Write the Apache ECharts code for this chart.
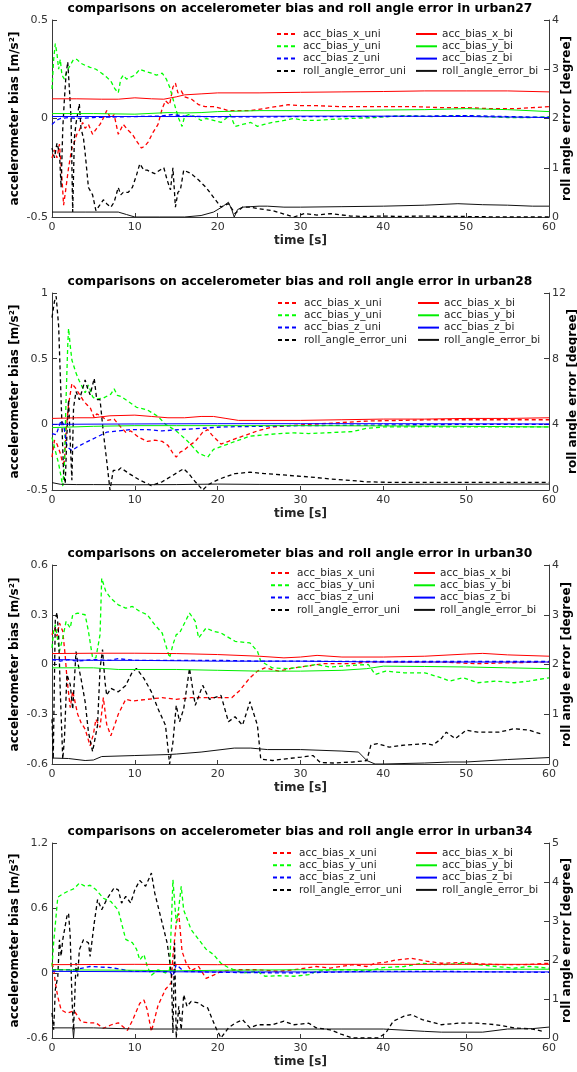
<!DOCTYPE html>
<html>
<head>
<meta charset="utf-8">
<script src="https://cdn.jsdelivr.net/npm/echarts@6/dist/echarts.min.js"></script>
<style>html,body{margin:0;padding:0;background:#fff}#c{width:577px;height:1072px}</style>
</head>
<body>
<div id="c"></div>
<script>
// ---------- data: [time s, value] ----------
const seriesNames = ['acc_bias_x_uni','acc_bias_y_uni','acc_bias_z_uni','roll_angle_error_uni','acc_bias_x_bi','acc_bias_y_bi','acc_bias_z_bi','roll_angle_error_bi'];
const xTicks = [0,10,20,30,40,50,60];
const panelTitles = ['urban27','urban28','urban30','urban34'];

// urban27
const u27_xUni = [[0,-0.2],[0.3,-0.16],[0.6,-0.2],[0.9,-0.13],[1.2,-0.3],[1.4,-0.44],[1.6,-0.38],[2,-0.25],[2.4,-0.15],[2.7,-0.12],[3,-0.08],[3.3,-0.06],[3.7,-0.02],[4,-0.05],[4.4,-0.03],[4.9,-0.08],[5.4,-0.05],[5.8,-0.03],[6.3,0.01],[6.6,0.04],[7.1,0.0],[7.5,0.02],[8,-0.08],[8.6,-0.03],[9.2,-0.06],[9.7,-0.08],[10.3,-0.12],[10.8,-0.15],[11.2,-0.14],[11.6,-0.12],[12.2,-0.07],[12.8,-0.03],[13.3,0.05],[13.7,0.09],[14.2,0.07],[14.6,0.16],[14.9,0.18],[15.2,0.13],[15.6,0.14],[16,0.11],[16.8,0.1],[17.7,0.07],[18.5,0.06],[19.5,0.06],[20.5,0.05],[21.3,0.04],[22.5,0.04],[24,0.04],[25.5,0.05],[27,0.06],[28.5,0.07],[30,0.065],[32,0.065],[35,0.06],[38,0.06],[41,0.06],[44,0.06],[47,0.055],[50,0.055],[53,0.05],[56,0.05],[58,0.055],[60,0.06]];
const u27_yUni = [[0,0.15],[0.2,0.3],[0.4,0.38],[0.6,0.33],[0.8,0.25],[1,0.3],[1.2,0.22],[1.5,0.2],[1.8,0.24],[2.2,0.27],[2.6,0.3],[3,0.3],[3.5,0.28],[4,0.27],[4.6,0.26],[5.3,0.25],[6,0.23],[6.6,0.21],[7.1,0.19],[7.6,0.15],[8,0.13],[8.3,0.2],[8.6,0.22],[9,0.2],[9.5,0.21],[10,0.22],[10.6,0.25],[11.2,0.24],[12,0.23],[12.6,0.22],[13.3,0.23],[13.8,0.2],[14.2,0.16],[14.6,0.1],[15,0.04],[15.3,0.0],[15.7,-0.04],[16,0.01],[16.5,0.02],[17.3,0.01],[18,-0.01],[18.6,0.0],[19.5,-0.01],[20.4,-0.02],[21,0.0],[21.5,0.02],[22.1,-0.04],[23,-0.03],[24,-0.02],[24.8,-0.04],[25.6,-0.03],[26.6,-0.02],[28,-0.01],[29.2,0.0],[30.5,-0.01],[32,-0.01],[33.6,-0.005],[36,0.0],[39,0.005],[42.5,0.015],[46,0.01],[49,0.015],[52,0.01],[55,0.005],[58,0.005],[60,0.01]];
const u27_zUni = [[0,-0.03],[0.5,-0.01],[1,0.0],[2,0.005],[3,0.0],[5,0.005],[8,0.008],[10,0.01],[13,0.012],[14.5,0.02],[16,0.012],[20,0.008],[25,0.008],[30,0.01],[40,0.01],[45,0.012],[50,0.015],[55,0.01],[60,0.005]];
const u27_rollUni = [[0,1.4],[0.3,1.2],[0.6,1.5],[0.9,1.3],[1.1,0.6],[1.3,1.8],[1.5,2.4],[1.7,2.9],[1.9,3.15],[2.1,2.6],[2.3,2.0],[2.5,0.1],[2.7,1.6],[2.9,1.9],[3.3,2.3],[3.5,1.8],[3.8,1.6],[4.0,1.3],[4.4,0.6],[4.9,0.45],[5.3,0.13],[5.8,0.25],[6.2,0.35],[6.6,0.27],[7.1,0.2],[7.5,0.3],[8,0.6],[8.3,0.45],[8.6,0.5],[9.2,0.5],[9.7,0.6],[10.2,0.85],[10.6,1.08],[11.1,0.95],[11.5,0.95],[12.4,0.88],[13,0.95],[13.5,1.0],[13.9,0.75],[14.3,0.55],[14.6,1.0],[14.9,0.2],[15.2,0.5],[15.5,0.55],[15.9,0.95],[16.8,0.88],[17.7,0.75],[18.6,0.6],[19.5,0.4],[20.4,0.2],[21.3,0.27],[22.1,0.07],[23,0.2],[24,0.2],[24.8,0.17],[26.6,0.13],[28,0.06],[29.2,0.0],[30.5,0.07],[32,0.04],[33.6,0.07],[36,0.02],[38,0.01],[40,0.02],[42,0.01],[45,0.02],[47,0.01],[50,0.01],[55,0.0],[60,0.0]];
const u27_xBi = [[0,0.1],[3,0.1],[6,0.098],[8,0.098],[10,0.105],[12,0.1],[13.5,0.098],[15,0.11],[16,0.12],[18,0.125],[20,0.13],[25,0.13],[30,0.133],[35,0.135],[40,0.137],[45,0.14],[50,0.14],[55,0.14],[60,0.135]];
const u27_yBi = [[0,0.025],[5,0.025],[10,0.022],[14,0.03],[16,0.028],[18,0.03],[20,0.035],[25,0.04],[30,0.04],[35,0.04],[40,0.043],[45,0.045],[50,0.05],[55,0.045],[60,0.035]];
const u27_zBi = [[0,0.01],[10,0.01],[20,0.01],[30,0.012],[40,0.012],[50,0.01],[60,0.005]];
const u27_rollBi = [[0,0.1],[4,0.1],[8,0.1],[9,0.05],[10,0.0],[13,0.0],[16,0.0],[18,0.03],[19.5,0.1],[20.5,0.2],[21.3,0.3],[21.7,0.15],[22,0.0],[22.4,0.15],[23,0.2],[25,0.22],[26,0.22],[28,0.2],[30,0.2],[35,0.21],[40,0.22],[45,0.24],[49,0.27],[52,0.25],[55,0.24],[58,0.22],[60,0.22]];

// urban28
const u28_xUni = [[0,-0.25],[0.3,-0.12],[0.6,-0.15],[1,-0.22],[1.3,-0.3],[1.5,-0.28],[1.7,-0.05],[2,0.15],[2.4,0.31],[2.8,0.28],[3.3,0.23],[3.8,0.18],[4.2,0.15],[4.6,0.13],[5.1,0.05],[5.4,0.08],[6,0.06],[6.6,0.03],[7.5,0.04],[8,0.0],[8.9,-0.06],[9.5,-0.05],[10.5,-0.1],[11.5,-0.13],[12.4,-0.12],[13.3,-0.13],[14,-0.16],[14.6,-0.22],[15,-0.25],[15.5,-0.21],[15.9,-0.2],[16.6,-0.16],[17.3,-0.13],[18.2,-0.06],[18.8,-0.04],[19.3,-0.08],[20.4,-0.15],[21.3,-0.13],[22.1,-0.11],[23.5,-0.08],[24.8,-0.05],[26.6,-0.02],[28.5,-0.01],[31,0.0],[34,0.01],[38,0.025],[42,0.03],[46,0.035],[50,0.035],[55,0.035],[60,0.035]];
const u28_yUni = [[0,-0.1],[0.4,-0.2],[0.8,-0.3],[1.1,-0.4],[1.3,-0.47],[1.5,-0.3],[1.7,0.2],[1.9,0.6],[2.0,0.73],[2.2,0.6],[2.4,0.49],[2.9,0.39],[3.3,0.33],[4,0.24],[4.4,0.3],[4.9,0.21],[5.3,0.19],[6.2,0.2],[7.1,0.23],[7.5,0.27],[7.9,0.22],[8.4,0.21],[9.3,0.17],[10.2,0.13],[11.5,0.11],[12.8,0.06],[13.7,0.0],[15,-0.05],[16.4,-0.13],[17.7,-0.22],[18.8,-0.25],[19.5,-0.19],[20.4,-0.17],[22.1,-0.13],[23.9,-0.09],[25.7,-0.08],[27.5,-0.07],[29.2,-0.065],[31,-0.07],[33,-0.065],[36.3,-0.055],[38,-0.03],[40,-0.02],[45,-0.018],[50,-0.02],[55,-0.02],[60,-0.02]];
const u28_zUni = [[0,-0.07],[0.5,-0.08],[1.1,0.03],[1.4,0.0],[1.8,-0.17],[2.4,-0.2],[3.1,-0.17],[4,-0.14],[5.3,-0.1],[6.6,-0.06],[8,-0.05],[9.5,-0.04],[11.5,-0.04],[13.3,-0.05],[15.5,-0.04],[18.2,-0.03],[20.4,-0.02],[25,-0.015],[30,-0.01],[40,-0.005],[50,0.0],[60,0.0]];
const u28_rollUni = [[0,10.5],[0.3,11.5],[0.5,11.8],[0.8,10],[1.0,7],[1.2,4],[1.4,1.0],[1.6,0.4],[1.8,3.4],[2.0,5.5],[2.2,3.0],[2.4,0.6],[2.6,5.0],[2.9,6.0],[3.3,5.5],[3.6,6.0],[4.0,6.7],[4.3,6.2],[4.6,5.8],[5.1,6.8],[5.4,5.5],[5.8,5.5],[6.2,3.5],[6.6,1.8],[7.0,0.0],[7.4,1.2],[8.0,1.2],[8.3,1.35],[9.3,1.0],[10.6,0.6],[12.0,0.27],[13.3,0.5],[14.6,0.9],[15.9,1.3],[16.5,1.0],[17.3,0.5],[18.2,0.0],[18.8,0.3],[19.5,0.5],[20.4,0.7],[22.1,1.0],[23.9,1.08],[25.7,1.0],[28.3,0.9],[31,0.8],[33.6,0.67],[36.3,0.57],[38,0.5],[40.3,0.47],[45,0.47],[50,0.47],[55,0.47],[60,0.47]];
const u28_xBi = [[0,0.045],[3,0.05],[5,0.05],[7,0.065],[10,0.07],[12,0.06],[14,0.05],[16,0.05],[18,0.06],[19.5,0.06],[21,0.045],[22.5,0.03],[25,0.03],[30,0.03],[35,0.035],[40,0.04],[45,0.04],[50,0.045],[55,0.045],[60,0.05]];
const u28_yBi = [[0,-0.025],[5,-0.015],[10,-0.01],[15,-0.01],[20,-0.01],[30,-0.01],[40,-0.012],[50,-0.015],[60,-0.02]];
const u28_zBi = [[0,0.0],[10,0.003],[20,0.005],[30,0.005],[40,0.005],[50,0.004],[60,0.003]];
const u28_rollBi = [[0,0.45],[1,0.35],[3,0.33],[5,0.33],[10,0.32],[15,0.33],[20,0.36],[25,0.34],[30,0.33],[35,0.33],[40,0.34],[45,0.35],[50,0.35],[55,0.36],[60,0.36]];

// urban30
const u30_xUni = [[0,0.18],[0.3,0.22],[0.6,0.17],[0.9,0.25],[1.3,0.2],[1.6,0.05],[1.8,-0.08],[2.2,-0.26],[2.5,-0.16],[3.1,-0.3],[3.5,-0.35],[4,-0.39],[4.6,-0.49],[5,-0.42],[5.3,-0.33],[5.8,-0.38],[6.2,-0.2],[6.6,-0.36],[7.1,-0.43],[7.6,-0.36],[8,-0.3],[8.5,-0.25],[8.9,-0.21],[9.7,-0.22],[11.5,-0.21],[13.3,-0.2],[15,-0.21],[16.8,-0.2],[18.6,-0.2],[20.4,-0.2],[21.7,-0.2],[22.6,-0.16],[23.9,-0.08],[24.8,-0.04],[25.7,-0.02],[27.4,-0.04],[29.2,-0.02],[30.8,-0.01],[32.8,0.005],[36.3,0.005],[38,0.015],[42,0.015],[47,0.015],[51,0.005],[55,0.01],[60,0.015]];
const u30_yUni = [[0,0.1],[0.2,0.2],[0.4,0.24],[0.9,0.08],[1.3,0.16],[1.7,0.26],[2.2,0.22],[2.5,0.3],[3.1,0.31],[4,0.3],[4.4,0.2],[4.9,0.04],[5.3,0.04],[5.8,0.18],[6.0,0.52],[6.5,0.44],[7.1,0.4],[8,0.36],[8.9,0.34],[9.7,0.35],[10.6,0.32],[11.5,0.3],[12.4,0.24],[13.3,0.19],[14.2,0.04],[14.6,0.12],[15,0.18],[15.4,0.19],[15.9,0.24],[16.6,0.31],[17.3,0.26],[17.7,0.16],[18.6,0.22],[19.5,0.2],[20.4,0.19],[22.1,0.14],[23.9,0.13],[24.8,0.08],[25.2,0.02],[26.6,-0.02],[28.4,-0.025],[30.1,-0.015],[31.9,0.0],[33.6,-0.015],[36.3,-0.005],[38.2,0.0],[39,-0.06],[40.3,-0.04],[42.5,-0.05],[45,-0.05],[47,-0.08],[48,-0.1],[49.6,-0.08],[51.4,-0.11],[53.6,-0.1],[55.8,-0.11],[57.6,-0.1],[60,-0.08]];
const u30_zUni = [[0,0.03],[1,0.02],[2,0.03],[3,0.02],[5,0.03],[7,0.025],[8,0.035],[10,0.025],[15,0.025],[20,0.025],[25,0.02],[30,0.02],[40,0.018],[50,0.018],[60,0.018]];
const u30_rollUni = [[0,0.9],[0.15,0.1],[0.4,2.9],[0.6,3.05],[0.8,2.6],[1.0,1.45],[1.3,0.1],[1.5,0.5],[1.8,1.8],[2.2,1.6],[2.5,1.1],[2.9,2.26],[3.1,2.05],[3.5,1.72],[4.0,1.25],[4.4,0.64],[4.9,0.25],[5.5,0.78],[5.8,1.92],[6.1,2.3],[6.4,1.65],[6.6,1.38],[7.1,1.52],[8.0,1.45],[8.9,1.58],[9.7,1.85],[10.2,1.92],[11.1,1.72],[12,1.45],[12.8,1.11],[13.7,0.78],[14.2,0.0],[14.6,0.44],[15.0,1.18],[15.4,0.85],[15.9,1.11],[16.6,1.92],[17.3,1.18],[18.2,1.58],[19,1.3],[20.4,1.38],[21.3,0.85],[22.1,0.95],[23,0.78],[23.9,1.25],[24.8,0.78],[25.2,0.1],[26.6,0.07],[28,0.1],[30.1,0.14],[31.5,0.17],[32.4,0.03],[34,0.02],[36.3,0.04],[38,0.07],[38.5,0.38],[39.3,0.41],[40.7,0.34],[42.5,0.38],[45.2,0.41],[46,0.38],[47,0.51],[47.6,0.64],[48.7,0.51],[50,0.68],[51.4,0.64],[54,0.64],[55.8,0.71],[57.6,0.68],[59.3,0.59]];
const u30_xBi = [[0,0.066],[5,0.068],[10,0.068],[15,0.066],[20,0.06],[25,0.05],[28,0.04],[30,0.045],[32,0.055],[35,0.045],[40,0.045],[45,0.05],[50,0.063],[52,0.067],[55,0.058],[60,0.05]];
const u30_yBi = [[0,-0.02],[5,-0.02],[8,-0.03],[15,-0.03],[20,-0.035],[25,-0.04],[30,-0.04],[35,-0.035],[38,-0.025],[40,-0.01],[45,-0.012],[50,-0.015],[55,-0.02],[60,-0.025]];
const u30_zBi = [[0,0.03],[5,0.025],[10,0.025],[20,0.02],[30,0.02],[40,0.015],[50,0.015],[60,0.015]];
const u30_rollBi = [[0,0.12],[2,0.11],[4,0.07],[5,0.08],[6,0.15],[10,0.17],[14,0.19],[15,0.2],[18,0.24],[22,0.32],[24,0.32],[26,0.29],[30,0.29],[35,0.26],[37,0.24],[38,0.07],[39,0.0],[40,0.0],[45,0.02],[48,0.04],[50,0.04],[55,0.09],[60,0.13]];

// urban34
const u34_xUni = [[0,0.09],[0.2,0.04],[0.4,-0.09],[0.7,-0.22],[1.1,-0.34],[1.8,-0.37],[2.7,-0.35],[3.5,-0.45],[4.4,-0.46],[5.3,-0.46],[6.2,-0.51],[7.1,-0.48],[8,-0.46],[9.1,-0.53],[9.7,-0.44],[10.6,-0.28],[11.1,-0.25],[11.5,-0.34],[12,-0.54],[12.8,-0.3],[13.7,-0.15],[14.4,-0.09],[14.6,0.16],[15,0.46],[15.3,0.55],[15.7,0.2],[16.2,0.09],[16.8,0.02],[17.7,0.06],[18.6,-0.05],[19.5,-0.02],[20.4,0.015],[22.1,0.03],[24.8,0.03],[27.4,0.015],[29.2,0.03],[31.9,0.06],[33.6,0.045],[36.3,0.077],[38,0.06],[39,0.09],[40.3,0.1],[41.5,0.12],[43.4,0.135],[45.2,0.11],[47,0.09],[49.6,0.097],[51.4,0.085],[54,0.077],[57,0.077],[60,0.09]];
const u34_yUni = [[0,0.06],[0.2,0.28],[0.7,0.7],[1.3,0.73],[1.8,0.75],[2.7,0.78],[3.3,0.83],[4,0.8],[4.6,0.81],[5.3,0.77],[6.2,0.69],[7.1,0.66],[8,0.58],[8.4,0.46],[8.9,0.31],[9.7,0.28],[10.2,0.22],[10.6,0.12],[11.1,0.17],[11.5,0.06],[12,-0.02],[12.8,0.03],[13.7,0.0],[14.2,0.03],[14.6,0.86],[15,0.46],[15.3,0.6],[15.6,0.8],[15.9,0.58],[16.8,0.4],[17.7,0.31],[18.6,0.22],[19.5,0.17],[20.4,0.09],[21.3,0.05],[23,0.0],[24.8,0.015],[25.7,-0.03],[27.4,-0.025],[29.2,-0.03],[31,-0.015],[31.9,0.015],[33.6,0.03],[36.3,0.03],[38,0.015],[39.9,0.05],[42.5,0.06],[44.7,0.09],[47,0.077],[49.6,0.09],[51.4,0.077],[53.6,0.06],[55.8,0.045],[57.6,0.06],[60,0.045]];
const u34_zUni = [[0,0.03],[2.7,0.03],[4.6,0.06],[7.1,0.05],[9.7,0.015],[14.2,0.015],[14.6,-0.03],[15,0.08],[15.9,0.015],[20.4,0.006],[29.2,0.0],[38,0.015],[47,0.015],[60,0.006]];
const u34_rollUni = [[0,0.64],[0.2,0.21],[0.4,1.24],[0.7,1.58],[0.9,2.52],[1.1,2.1],[1.3,2.52],[1.8,3.12],[2.0,3.2],[2.2,2.6],[2.4,1.07],[2.6,0.2],[2.9,1.92],[3.1,1.58],[3.3,2.26],[3.8,2.52],[4.4,2.44],[4.6,2.09],[5.1,2.95],[5.5,3.55],[6.0,3.29],[6.6,3.55],[7.1,3.72],[7.5,3.85],[8.0,3.8],[8.4,3.46],[8.9,3.63],[9.5,3.46],[10.0,3.8],[10.6,4.04],[11.3,3.89],[12.0,4.23],[12.4,3.72],[13.3,2.95],[13.9,2.44],[14.4,1.67],[14.6,0.13],[14.8,2.44],[15.0,0.0],[15.3,0.81],[15.6,0.21],[15.9,1.11],[16.3,0.81],[16.8,0.94],[17.7,0.9],[18.3,0.81],[18.8,0.77],[19.7,0.3],[20.4,0.0],[21.3,0.26],[22.1,0.38],[23,0.47],[23.9,0.26],[24.8,0.34],[26.6,0.34],[28,0.43],[29.2,0.34],[31,0.38],[31.9,0.26],[33.6,0.21],[35,0.09],[36.3,0.0],[38,0.0],[39.4,0.0],[40.3,0.13],[41.2,0.43],[42.5,0.56],[43.4,0.6],[44.7,0.47],[47,0.34],[49.1,0.38],[51.4,0.38],[53.6,0.34],[55.8,0.26],[58,0.23],[59.3,0.17]];
const u34_xBi = [[0,0.077],[10,0.08],[20,0.077],[30,0.08],[40,0.08],[50,0.08],[60,0.08]];
const u34_yBi = [[0,0.03],[10,0.025],[15,0.02],[20,0.025],[30,0.03],[40,0.03],[50,0.035],[60,0.035]];
const u34_zBi = [[0,0.015],[10,0.012],[20,0.01],[30,0.01],[40,0.01],[50,0.01],[60,0.01]];
const u34_rollBi = [[0,0.26],[2.5,0.26],[2.6,0.0],[2.7,0.26],[5,0.26],[10,0.23],[15,0.23],[20,0.23],[25,0.23],[30,0.23],[35,0.23],[40,0.23],[42.5,0.2],[45,0.17],[47,0.15],[50,0.15],[52,0.15],[55,0.23],[58,0.24],[60,0.28]];

const leftRanges = [[-0.5,0.5,0.5],[-0.5,1,0.5],[-0.6,0.6,0.3],[-0.6,1.2,0.6]];
const rightRanges = [[0,4,1],[0,12,4],[0,4,1],[0,5,1]];
const panelData = [
  [u27_xUni,u27_yUni,u27_zUni,u27_rollUni,u27_xBi,u27_yBi,u27_zBi,u27_rollBi],
  [u28_xUni,u28_yUni,u28_zUni,u28_rollUni,u28_xBi,u28_yBi,u28_zBi,u28_rollBi],
  [u30_xUni,u30_yUni,u30_zUni,u30_rollUni,u30_xBi,u30_yBi,u30_zBi,u30_rollBi],
  [u34_xUni,u34_yUni,u34_zUni,u34_rollUni,u34_xBi,u34_yBi,u34_zBi,u34_rollBi]
];

// ---------- layout / style ----------
const FONT = 'DejaVu Sans';
const AX = '#3a3a3a';
const layout = [
  {top:20, h:197, legTop:14, l1:276, l2:415, rGap:12},
  {top:293, h:197, legTop:10, l1:277, l2:417, rGap:18},
  {top:565, h:199, legTop:8, l1:270, l2:413, rGap:12},
  {top:843, h:195, legTop:10, l1:272, l2:415, rGap:12}
];
const colors = ['#ff0000','#00ff00','#0000ff','#000000','#ff0000','#00ee00','#0000ff','#111111'];

const grid = [], xAxis = [], yAxis = [], series = [], legend = [], title = [];
layout.forEach((L, i) => {
  grid.push({left:52, width:497, top:L.top, height:L.h, containLabel:false, outerBoundsMode:'none'});
  title.push({text:'comparisons on accelerometer bias and roll angle error in ' + panelTitles[i],
    left:300, top:L.top-17, textAlign:'center', padding:0,
    textStyle:{fontFamily:FONT, fontSize:12.3, fontWeight:'bold', color:'#000'}});
  xAxis.push({type:'value', gridIndex:i, min:xTicks[0], max:xTicks[xTicks.length-1], interval:10,
    name:'time [s]', nameLocation:'middle', nameGap:18, nameMoveOverlap:false,
    nameTextStyle:{fontFamily:FONT, fontSize:12, fontWeight:'bold', color:'#262626'},
    axisLine:{show:true, onZero:false, lineStyle:{color:AX, width:1}},
    axisTick:{show:true, inside:true, length:4, lineStyle:{color:AX}},
    axisLabel:{fontFamily:FONT, fontSize:11, color:'#333', margin:5},
    splitLine:{show:false}});
  const lr = leftRanges[i], rr = rightRanges[i];
  yAxis.push({type:'value', gridIndex:i, position:'left', min:lr[0], max:lr[1], interval:lr[2],
    name:'accelerometer bias [m/s²]', nameLocation:'middle', nameGap:31, nameMoveOverlap:false,
    nameTextStyle:{fontFamily:FONT, fontSize:12, fontWeight:'bold', color:'#000'},
    axisLine:{show:true, onZero:false, lineStyle:{color:AX, width:1}},
    axisTick:{show:true, inside:true, length:5, lineStyle:{color:AX}},
    axisLabel:{fontFamily:FONT, fontSize:11, color:'#333', margin:4},
    splitLine:{show:false}});
  yAxis.push({type:'value', gridIndex:i, position:'right', min:rr[0], max:rr[1], interval:rr[2],
    name:'roll angle error [degree]', nameLocation:'middle', nameGap:L.rGap, nameMoveOverlap:false,
    nameTextStyle:{fontFamily:FONT, fontSize:12, fontWeight:'bold', color:'#000'},
    axisLine:{show:true, onZero:false, lineStyle:{color:AX, width:1}},
    axisTick:{show:true, inside:true, length:5, lineStyle:{color:AX}},
    axisLabel:{fontFamily:FONT, fontSize:11, color:'#333', margin:3},
    splitLine:{show:false}});
  panelData[i].forEach((d, k) => {
    const uni = k < 4;
    series.push({type:'line', name:seriesNames[k], xAxisIndex:i, yAxisIndex: (k % 4 === 3) ? 2*i+1 : 2*i,
      data:d, symbol:'none', showSymbol:false, animation:false, silent:true,
      lineStyle:{color:colors[k], width: uni ? 1.3 : 1, type: uni ? [4,3] : 'solid'},
      itemStyle:{color:colors[k]}, z: uni ? 2 : 3});
  });
  const legBase = {orient:'vertical', top:L.top+L.legTop-6, itemWidth:21, itemHeight:12, itemGap:0.3,
    padding:0, selectedMode:false,
    itemStyle:{opacity:0, borderWidth:0},
    textStyle:{fontFamily:FONT, fontSize:10.5, lineHeight:12, color:'#262626'}};
  legend.push(Object.assign({}, legBase, {left:L.l1, data:seriesNames.slice(0,4)}));
  legend.push(Object.assign({}, legBase, {left:L.l2, data:seriesNames.slice(4)}));
});

const chart = echarts.init(document.getElementById('c'), null, {renderer:'canvas'});
chart.setOption({animation:false, backgroundColor:'#fff', title, grid, xAxis, yAxis, legend, series});
</script>
</body>
</html>
